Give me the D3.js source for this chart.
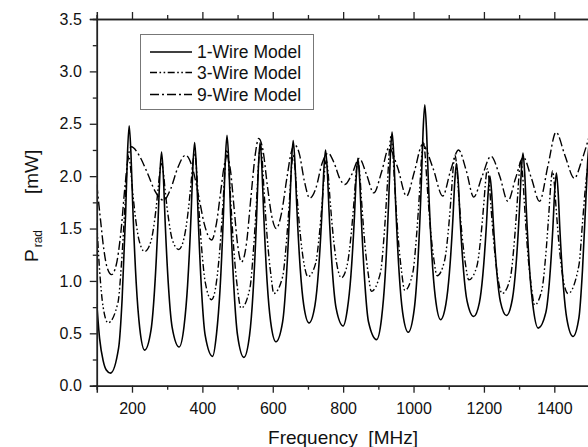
<!DOCTYPE html>
<html>
<head>
<meta charset="utf-8">
<script src="https://cdn.jsdelivr.net/npm/d3@7"></script>
<style>
  body { margin: 0; background: #fff; }
  svg { display: block; font-family: "Liberation Sans", Arial, sans-serif; }
</style>
</head>
<body>
<svg width="588" height="447"></svg>
<script>
// values: [frequency MHz, P_rad mW]
const wire1 = [
  [100,0.78],[108,0.45],[118,0.24],[127,0.15],[139,0.12],
  [162,0.36],[172,0.83],[182,1.65],[187,2.2],[192,2.48],[197,2.22],[202,1.73],[212,0.98],[222,0.55],[236,0.34],
  [254,0.53],[264,0.91],[274,1.57],[279,2.0],[284,2.23],[289,2.01],[294,1.58],[304,0.93],[314,0.56],[334,0.37],
  [348,0.57],[358,0.96],[368,1.64],[373,2.09],[378,2.32],[383,2.08],[388,1.61],[398,0.89],[408,0.48],[429,0.28],
  [440,0.49],[450,0.91],[460,1.65],[465,2.14],[470,2.39],[475,2.14],[480,1.65],[490,0.91],[500,0.48],[518,0.27],
  [534,0.48],[544,0.89],[554,1.6],[559,2.07],[564,2.32],[569,2.09],[574,1.66],[584,0.99],[594,0.61],[609,0.42],
  [628,0.61],[638,1.0],[648,1.67],[653,2.11],[658,2.34],[663,2.13],[668,1.73],[678,1.12],[688,0.77],[703,0.6],
  [720,0.77],[730,1.1],[740,1.67],[745,2.05],[750,2.25],[755,2.05],[760,1.66],[770,1.07],[780,0.74],[800,0.57],
  [812,0.73],[822,1.05],[832,1.61],[837,1.98],[842,2.17],[847,1.96],[852,1.57],[862,0.96],[872,0.61],[895,0.44],
  [909,0.64],[919,1.03],[929,1.73],[934,2.18],[939,2.42],[944,2.19],[949,1.75],[959,1.08],[969,0.7],[985,0.51],
  [1002,0.73],[1012,1.16],[1022,1.92],[1027,2.42],[1032,2.68],[1037,2.43],[1042,1.96],[1052,1.25],[1062,0.84],[1077,0.63],
  [1092,0.78],[1102,1.08],[1112,1.6],[1117,1.94],[1122,2.12],[1127,1.95],[1132,1.61],[1142,1.1],[1152,0.81],[1171,0.66],
  [1187,0.79],[1197,1.06],[1207,1.53],[1212,1.84],[1217,2.0],[1222,1.84],[1227,1.54],[1237,1.07],[1247,0.8],[1264,0.67],
  [1281,0.83],[1291,1.14],[1301,1.68],[1306,2.03],[1311,2.22],[1316,2.02],[1321,1.64],[1331,1.05],[1341,0.72],[1354,0.55],
  [1376,0.7],[1386,0.99],[1396,1.51],[1401,1.85],[1406,2.03],[1411,1.84],[1416,1.48],[1426,0.94],[1436,0.63],[1453,0.47],
  [1470,0.65],[1480,1.1],[1490,1.8],[1495,2.15],[1500,2.35]
];

const wire3 = [
  [100,1.55],[108,1.1],[118,0.75],[132,0.6],
  [160,0.79],[170,1.16],[180,1.72],[185,2.04],[190,2.2],[195,2.11],[200,1.92],[210,1.6],[220,1.39],[236,1.28],
  [254,1.38],[264,1.57],[274,1.87],[279,2.04],[284,2.12],[289,2.04],[294,1.87],[304,1.59],[314,1.4],[333,1.3],
  [348,1.41],[358,1.62],[368,1.94],[373,2.13],[378,2.22],[383,2.08],[388,1.8],[398,1.31],[408,0.99],[426,0.82],
  [440,0.99],[450,1.32],[460,1.82],[465,2.11],[470,2.25],[475,2.1],[480,1.8],[490,1.27],[500,0.92],[510,0.74],
  [535,0.93],[545,1.29],[555,1.83],[560,2.14],[565,2.3],[570,2.16],[575,1.87],[585,1.38],[595,1.05],[603,0.88],
  [628,1.04],[638,1.34],[648,1.8],[653,2.07],[658,2.2],[663,2.08],[668,1.85],[678,1.45],[688,1.18],[700,1.04],
  [722,1.17],[732,1.43],[742,1.82],[747,2.04],[752,2.15],[757,2.04],[762,1.81],[772,1.42],[782,1.16],[795,1.03],
  [812,1.16],[822,1.42],[832,1.81],[837,2.04],[842,2.15],[847,2.03],[852,1.78],[862,1.34],[872,1.05],[880,0.9],
  [906,1.08],[916,1.42],[926,1.94],[931,2.23],[936,2.38],[941,2.23],[946,1.94],[956,1.43],[966,1.09],[975,0.91],
  [998,1.08],[1008,1.41],[1018,1.9],[1023,2.19],[1028,2.33],[1033,2.2],[1038,1.95],[1048,1.5],[1058,1.2],[1067,1.05],
  [1088,1.19],[1098,1.45],[1108,1.86],[1113,2.09],[1118,2.2],[1123,2.08],[1128,1.84],[1138,1.43],[1148,1.15],[1157,1.01],
  [1180,1.14],[1190,1.38],[1200,1.75],[1205,1.96],[1210,2.07],[1215,1.95],[1220,1.71],[1230,1.3],[1240,1.02],[1252,0.88],
  [1275,1.03],[1285,1.32],[1295,1.77],[1300,2.02],[1305,2.15],[1310,2.01],[1315,1.74],[1325,1.25],[1335,0.94],[1344,0.77],
  [1365,0.92],[1375,1.22],[1385,1.67],[1390,1.92],[1395,2.05],[1400,1.93],[1405,1.7],[1415,1.29],[1425,1.02],[1439,0.88],
  [1470,1.15],[1480,1.55],[1490,1.95],[1500,2.2]
];

const wire9 = [
  [100,1.92],[110,1.6],[120,1.3],[130,1.12],[142,1.06],[155,1.15],[168,1.45],[180,1.9],[190,2.2],[198,2.28],
  [220,2.2],[245,2.02],[265,1.86],[290,1.77],[310,1.88],[330,2.08],[352,2.2],
  [370,2.1],[390,1.8],[405,1.55],[426,1.39],[440,1.55],[452,1.85],[462,2.1],[470,2.2],
  [480,2.05],[490,1.7],[500,1.35],[511,1.18],[525,1.35],[538,1.8],[550,2.2],[560,2.36],
  [572,2.25],[585,1.9],[597,1.62],[610,1.5],[625,1.65],[640,1.98],[652,2.22],[662,2.3],
  [675,2.22],[690,1.95],[705,1.79],[722,1.88],[740,2.12],[757,2.22],
  [775,2.12],[790,1.98],[805,1.92],[825,2.02],[846,2.17],[866,2.02],[887,1.84],
  [910,2.05],[930,2.27],[955,2.08],[980,1.81],[1003,2.05],[1025,2.3],[1055,2.08],[1083,1.81],
  [1105,2.05],[1128,2.25],[1150,2.05],[1171,1.8],[1195,2.0],[1220,2.19],[1245,2.0],[1268,1.76],
  [1290,1.98],[1312,2.18],[1335,1.98],[1358,1.76],[1382,2.1],[1405,2.42],[1430,2.2],[1457,1.98],
  [1478,2.15],[1500,2.39]
];

const xMajor = [200, 400, 600, 800, 1000, 1200, 1400];
const xMinor = [100, 300, 500, 700, 900, 1100, 1300, 1500];
const yMajor = [0, 0.5, 1.0, 1.5, 2.0, 2.5, 3.0, 3.5];
const yMinor = [0.25, 0.75, 1.25, 1.75, 2.25, 2.75, 3.25];
const seriesNames = ["1-Wire Model", "3-Wire Model", "9-Wire Model"];

const svg = d3.select("svg");

const x = d3.scaleLinear().domain([100, 1500]).range([96.8, 589.5]);
const y = d3.scaleLinear().domain([0, 3.5]).range([385.7, 19]);

const styles = [
  { dash: null, width: 1.6 },
  { dash: "7,2.5,1.6,2.5,1.6,2.5", width: 1.4 },
  { dash: "9,3,2,3", width: 1.4 }
];

svg.append("clipPath").attr("id", "plot")
  .append("rect")
  .attr("x", x(100)).attr("y", y(3.5))
  .attr("width", x(1500) - x(100)).attr("height", y(0) - y(3.5));

const line = d3.line()
  .x(d => x(d[0]))
  .y(d => y(d[1]))
  .curve(d3.curveMonotoneX);

const lines = svg.append("g").attr("clip-path", "url(#plot)");
[wire1, wire3, wire9].forEach((data, i) => {
  lines.append("path")
    .datum(data)
    .attr("d", line)
    .attr("fill", "none")
    .attr("stroke", "#000")
    .attr("stroke-width", styles[i].width)
    .attr("stroke-dasharray", styles[i].dash)
    .attr("stroke-linejoin", "round");
});

// axes
function styleAxis(g) {
  g.selectAll(".domain").attr("stroke", "#222").attr("stroke-width", 1.5);
  g.selectAll(".tick line").attr("stroke", "#222").attr("stroke-width", 1.3);
  g.selectAll(".tick text").attr("fill", "#111").style("font-size", "16px")
    .style("font-family", "Liberation Sans, Arial, sans-serif");
}

svg.append("g")
  .attr("transform", `translate(0,${y(0)})`)
  .call(d3.axisBottom(x).tickValues(xMajor).tickSize(7).tickPadding(10).tickFormat(d3.format("d")))
  .call(styleAxis);
svg.append("g")
  .attr("transform", `translate(0,${y(0)})`)
  .call(d3.axisBottom(x).tickValues(xMinor).tickSize(4).tickFormat(""))
  .call(styleAxis);

svg.append("g")
  .attr("transform", `translate(0,${y(3.5)})`)
  .call(d3.axisTop(x).tickValues(xMajor).tickSize(7).tickFormat(""))
  .call(styleAxis);
svg.append("g")
  .attr("transform", `translate(0,${y(3.5)})`)
  .call(d3.axisTop(x).tickValues(xMinor).tickSize(4).tickFormat(""))
  .call(styleAxis);

svg.append("g")
  .attr("transform", `translate(${x(100)},0)`)
  .call(d3.axisLeft(y).tickValues(yMajor).tickSize(7).tickPadding(8).tickFormat(d3.format(".1f")))
  .call(styleAxis);
svg.append("g")
  .attr("transform", `translate(${x(100)},0)`)
  .call(d3.axisLeft(y).tickValues(yMinor).tickSize(4).tickFormat(""))
  .call(styleAxis);

// axis titles
svg.append("text")
  .attr("x", 343).attr("y", 444)
  .attr("text-anchor", "middle")
  .style("font-size", "19px")
  .style("white-space", "pre")
  .attr("fill", "#111")
  .text("Frequency  [MHz]");

const yt = svg.append("text")
  .attr("transform", "translate(38,262) rotate(-90)")
  .style("font-size", "19px")
  .attr("fill", "#111");
yt.append("tspan").text("P");
yt.append("tspan").attr("dx", 2).attr("dy", 4).style("font-size", "12px").text("rad");

svg.append("text")
  .attr("transform", "translate(38,194) rotate(-90)")
  .style("font-size", "19px")
  .attr("fill", "#111")
  .text("[mW]");

// legend
const legend = svg.append("g");
legend.append("rect")
  .attr("x", 140.5).attr("y", 34.5)
  .attr("width", 173).attr("height", 75)
  .attr("fill", "#fff")
  .attr("stroke", "#777")
  .attr("stroke-width", 1);

const rowY = [52, 72.5, 94.5];
seriesNames.forEach((name, i) => {
  legend.append("line")
    .attr("x1", 150).attr("x2", 192)
    .attr("y1", rowY[i]).attr("y2", rowY[i])
    .attr("stroke", "#000")
    .attr("stroke-width", styles[i].width)
    .attr("stroke-dasharray", styles[i].dash);
  legend.append("text")
    .attr("x", 197).attr("y", rowY[i])
    .attr("dy", "0.36em")
    .style("font-size", "17.5px")
    .attr("fill", "#111")
    .text(name);
});
</script>
</body>
</html>
